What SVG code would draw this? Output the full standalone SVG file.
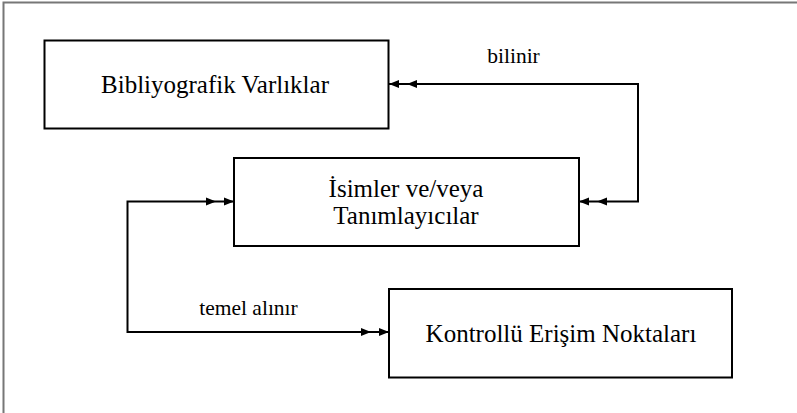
<svg xmlns="http://www.w3.org/2000/svg" width="797" height="413" viewBox="0 0 797 413">
<defs>
<style>
.box{fill:#fff;stroke:#000;stroke-width:2}
.conn{fill:none;stroke:#000;stroke-width:2}
.t{font-family:'Liberation Serif','Times New Roman',serif;fill:#000;text-anchor:middle}
.main{font-size:25px}
.lbl{font-size:21.5px}
</style>
<marker id="dbl" viewBox="0 0 28 10" markerUnits="userSpaceOnUse" markerWidth="28" markerHeight="10" refX="28" refY="5" orient="auto-start-reverse">
<path d="M0,1 L10,5 L0,9 Z M18,1 L28,5 L18,9 Z" fill="#000"/>
</marker>
</defs>
<rect width="797" height="413" fill="#fff"/>
<path d="M3.5,413 V2.5 H797" fill="none" stroke="#777" stroke-width="2"/>
<g id="connectors">
<path class="conn" d="M389,84 H638 V201.5 H579" marker-start="url(#dbl)" marker-end="url(#dbl)"/>
<path class="conn" d="M234,201.5 H127.5 V332 H389" marker-start="url(#dbl)" marker-end="url(#dbl)"/>
<text class="t lbl" x="513.5" y="63">bilinir</text>
<text class="t lbl" x="248.5" y="315">temel alınır</text>
</g>
<g id="bibliyografik">
<rect class="box" x="44.5" y="40.5" width="344" height="88"/>
<text class="t main" x="215" y="93">Bibliyografik Varlıklar</text>
</g>
<g id="isimler">
<rect class="box" x="234" y="158" width="345" height="88"/>
<text class="t main" x="406" y="197">İsimler ve/veya</text>
<text class="t main" x="406" y="224">Tanımlayıcılar</text>
</g>
<g id="kontrollu">
<rect class="box" x="389" y="289" width="343" height="88.5"/>
<text class="t main" x="561" y="342">Kontrollü Erişim Noktaları</text>
</g>
</svg>
